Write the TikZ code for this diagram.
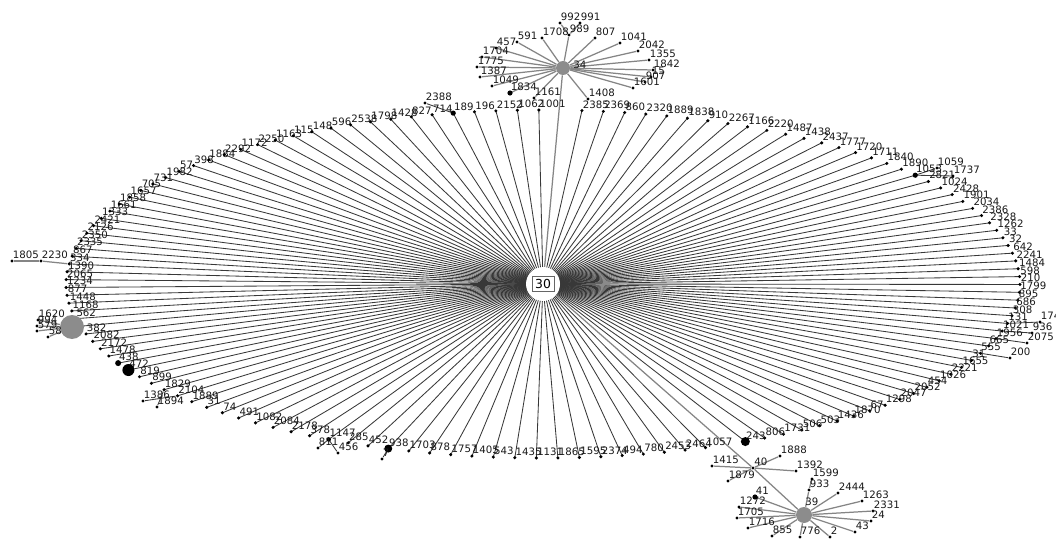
\documentclass[tikz,border=0pt]{standalone}
\usepackage{fontspec}
\newfontfamily\lblfont{DejaVu Sans}
\usetikzlibrary{calc}
\definecolor{hubgray}{RGB}{140,140,140}
\pgfdeclarelayer{back}
\pgfdeclarelayer{bg}
\pgfsetlayers{back,bg,main}
\begin{document}
\begin{tikzpicture}[x=0.5pt,y=-0.5pt,
  dot/.style={circle,fill=black,inner sep=0pt,minimum size=1.7pt},
  lbl/.style={anchor=base west,inner sep=0pt,font=\lblfont\fontsize{5.1}{5.1}\selectfont,text=black!90},
  ringedge/.style={draw=black!78,line width=0.42pt},
  hubedge/.style={draw=black!48,line width=0.62pt},
  hubnode/.style={circle,fill=hubgray,inner sep=0pt}]
\useasboundingbox (0,0) rectangle (1056,540);
\begin{pgfonlayer}{back}\fill[white] (0,0) rectangle (1056,540);\end{pgfonlayer}
% centre node
\node[circle,fill=white,inner sep=0pt,minimum size=17pt] (c) at (543,284) {};
\node[draw=black!60,line width=0.4pt,inner sep=1.6pt,font=\lblfont\fontsize{6.2}{6.2}\selectfont] (c30) at (c) {30};
% ring nodes
\foreach \k/\lab in {0/1001,2/2385,3/2369,4/860,5/2320,6/1889,7/1838,8/910,9/2267,10/1166,11/2220,12/1487,13/1438,14/2437,15/1777,16/1720,17/1711,18/1840,19/1890,20/1053,21/2821,22/1024,23/2428,24/1901,25/2034,26/2386,27/2328,28/1262,29/33,30/32,31/642,32/2241,33/1484,34/598,35/210,36/1799,37/895,38/686,39/308,40/131,41/1021,42/1956,43/665,44/555,45/31,46/1655,47/2221,48/1026,49/454,50/2052,51/2047,52/1298,53/67,54/1870,55/1436,56/503,57/506,58/1731,59/806,60/243,62/1057,63/2464,64/2453,65/780,66/494,67/2374,68/1595,69/1865,70/1131,71/1435,72/543,73/1405,74/1757,75/878,76/1703,77/938,78/452,79/285,80/1147,81/378,82/2178,83/2084,84/1082,85/491,86/74,87/31,88/1889,89/2104,90/1829,91/899,92/819,93/472,94/438,95/1478,96/2172,97/2082,98/382,100/562,101/1168,102/1448,103/877,104/1234,105/2065,106/1390,107/334,108/867,109/2335,110/2350,111/2126,112/2421,113/1333,114/1661,115/1858,116/1657,117/705,118/731,119/1982,120/57,121/398,122/1884,123/2292,124/1172,125/2250,126/1163,127/115,128/148,129/596,130/2538,131/1798,132/1428,133/827,134/714,135/189,136/196,137/2152,138/1062}{
  \pgfmathsetmacro\t{90.5-2.59*\k}
  \node[dot] (r\k) at ({543+477*cos(\t)},{284-174*sin(\t)}) {};
  \path (r\k) ++(0.5,-2.5) node[lbl] {\lab};
  \begin{pgfonlayer}{bg}\draw[ringedge] (c.center) -- (r\k.center);\end{pgfonlayer}
}
% left hub on the ring
\node[hubnode,minimum size=12pt] (r99) at (72,327) {};
\begin{pgfonlayer}{bg}\draw[ringedge] (c.center) -- (r99.center);\end{pgfonlayer}
% bigger ring dots
\foreach \k/\s in {93/6pt,77/4pt,60/4.5pt,135/2.6pt,20/2.6pt,94/3pt,80/2.3pt}{
  \node[circle,fill=black,inner sep=0pt,minimum size=\s] at (r\k) {};
}
% leaves of ring nodes
\foreach \n/\x/\y/\p in {2388/425/103/r135,1059/937/168/r20,1737/953/176/r20,174/1040/322/r40,936/1032/333/r41,2075/1027/343/r42,200/1010/358/r44,7/382/459/r77,811/318/448/r80,456/338/453/r80,1386/143/401/r89,1894/157/407/r90}{
  \node[dot] (x\n) at (\x,\y) {};
  \path (x\n) ++(0.5,-2.5) node[lbl] {\n};
  \begin{pgfonlayer}{bg}\draw[ringedge] (\p) -- (x\n);\end{pgfonlayer}
}
\foreach \n/\x/\y/\p in {2230/41/261/r107,1805/12/261/x2230,1620/38/320/r99,994/37/326/r99,579/37/331/r99,58/48/337/r99}{
  \node[dot] (x\n) at (\x,\y) {};
  \path (x\n) ++(0.5,-2.5) node[lbl] {\n};
  \begin{pgfonlayer}{bg}\draw[hubedge] (\p) -- (x\n);\end{pgfonlayer}
}
% top cluster
\node[hubnode,minimum size=7pt] (h34) at (563,68) {};
\node[lbl] at (573,69) {34};
\begin{pgfonlayer}{bg}\draw[hubedge] (c.center) -- (h34);\end{pgfonlayer}
\foreach \n/\x/\y/\p in {989/569/35/h34,992/560/23/t989,991/580/23/t989,1708/542/38/h34,591/517/42/h34,457/496/48/h34,807/595/38/h34,1041/620/43/h34,2042/638/51/h34,1355/649/60/h34,1842/653/70/h34,15/651/77/h34,907/645/82/h34,1601/633/88/h34,1408/588/99/h34,1704/482/57/h34,1775/477/67/h34,1387/480/77/h34,1049/492/86/h34,1834/510/93/h34,1161/534/98/h34}{
  \node[dot] (t\n) at (\x,\y) {};
  \path (t\n) ++(0.5,-2.5) node[lbl] {\n};
  \begin{pgfonlayer}{bg}\draw[hubedge] (\p) -- (t\n);\end{pgfonlayer}
}
\node[circle,fill=black,inner sep=0pt,minimum size=2.6pt] at (t1834) {};
% bottom cluster
\node[dot] (n40) at (753,468) {};
\path (n40) ++(1,-3) node[lbl] {40};
\node[hubnode,minimum size=8pt] (h39) at (804,515) {};
\node[lbl] at (805,505) {39};
\begin{pgfonlayer}{bg}
\draw[hubedge] (c.center) -- (n40);
\draw[hubedge] (n40) -- (h39);
\end{pgfonlayer}
\foreach \n/\x/\y/\p in {1415/712/466/n40,1888/780/456/n40,1392/796/471/n40,1879/728/481/n40,933/809/490/h39,1599/812/479/b933,2444/838/493/h39,1263/862/501/h39,2331/873/511/h39,24/871/521/h39,43/855/532/h39,2/830/537/h39,776/800/537/h39,855/772/536/h39,1716/748/528/h39,1705/737/518/h39,1272/739/507/h39,41/755/497/h39}{
  \node[dot] (b\n) at (\x,\y) {};
  \path (b\n) ++(0.5,-2.5) node[lbl] {\n};
  \begin{pgfonlayer}{bg}\draw[hubedge] (\p) -- (b\n);\end{pgfonlayer}
}
\node[circle,fill=black,inner sep=0pt,minimum size=2.6pt] at (b41) {};
\end{tikzpicture}
\end{document}
